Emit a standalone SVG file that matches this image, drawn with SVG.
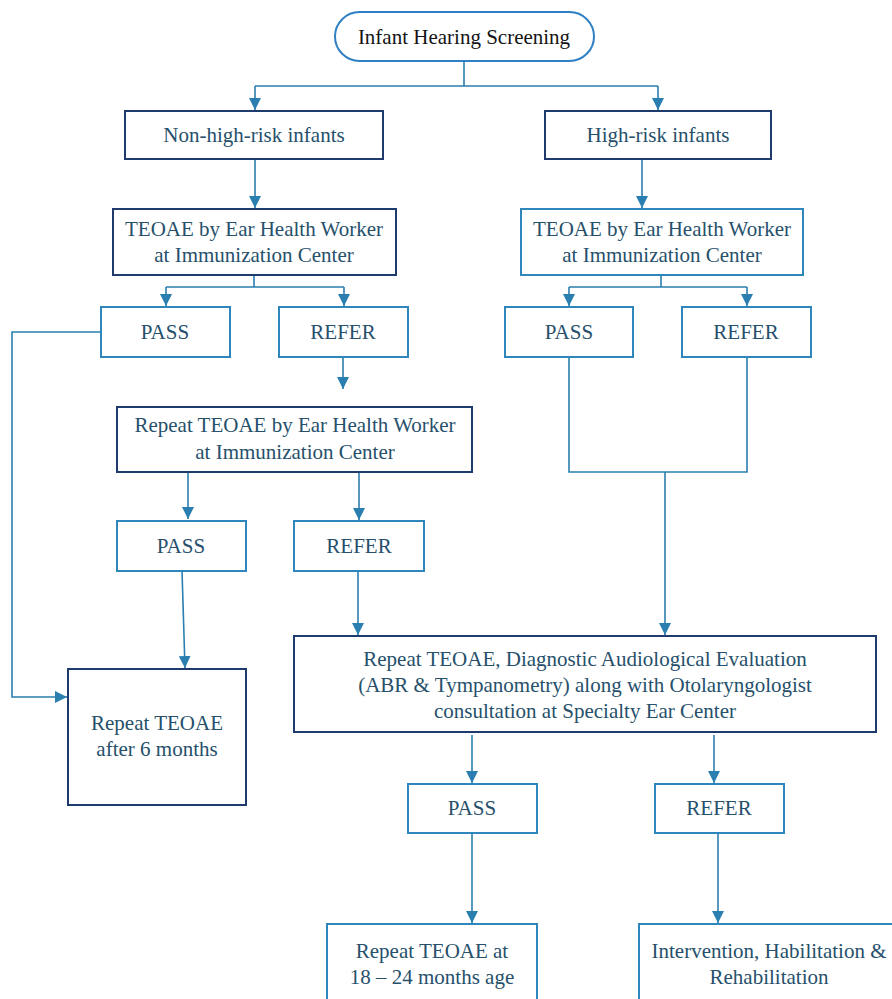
<svg xmlns="http://www.w3.org/2000/svg" width="892" height="999" viewBox="0 0 892 999">
<style>
.nv{fill:#fff;stroke:#1f3b6e;stroke-width:2}
.lb{fill:#fff;stroke:#2e86bd;stroke-width:2}
.t{font-family:'Liberation Serif','DejaVu Serif',serif;font-size:21px;fill:#26506b;text-anchor:middle}
.c{fill:none;stroke:#2a7fb0;stroke-width:1.6}
</style>
<defs>
<marker id="ah" viewBox="0 0 10 10" refX="10" refY="5" markerWidth="12" markerHeight="12" markerUnits="userSpaceOnUse" orient="auto">
<path d="M0,0 L10,5 L0,10 z" fill="#2a7fb0"/>
</marker>
</defs>
<rect width="892" height="999" fill="#fff"/>
<g id="connectors">
<path class="c" d="M464,61 V86 M255,86 H658"/>
<path class="c" d="M255,86 V110" marker-end="url(#ah)"/>
<path class="c" d="M658,86 V110" marker-end="url(#ah)"/>
<path class="c" d="M255,159 V208" marker-end="url(#ah)"/>
<path class="c" d="M642,159 V208" marker-end="url(#ah)"/>
<path class="c" d="M254,275 V287 M166,287 H344"/>
<path class="c" d="M166,287 V306" marker-end="url(#ah)"/>
<path class="c" d="M344,287 V306" marker-end="url(#ah)"/>
<path class="c" d="M661,275 V287 M569,287 H747"/>
<path class="c" d="M569,287 V306" marker-end="url(#ah)"/>
<path class="c" d="M747,287 V306" marker-end="url(#ah)"/>
<path class="c" d="M101,332 H12 V697 H67" marker-end="url(#ah)"/>
<path class="c" d="M343,357 V389" marker-end="url(#ah)"/>
<path class="c" d="M188,470 V519" marker-end="url(#ah)"/>
<path class="c" d="M359,472 V520" marker-end="url(#ah)"/>
<path class="c" d="M182,571 L185,668" marker-end="url(#ah)"/>
<path class="c" d="M358,568 V635" marker-end="url(#ah)"/>
<path class="c" d="M569,357 V472 H747 V357"/>
<path class="c" d="M665,472 V635" marker-end="url(#ah)"/>
<path class="c" d="M472,735 V783" marker-end="url(#ah)"/>
<path class="c" d="M714,735 V783" marker-end="url(#ah)"/>
<path class="c" d="M472,833 V923" marker-end="url(#ah)"/>
<path class="c" d="M718,833 V923" marker-end="url(#ah)"/>
</g>
<g id="start">
<rect x="335" y="12" width="259" height="49" rx="24.5" fill="#fff" stroke="#2e7fc4" stroke-width="2"/>
<text class="t" x="464" y="44" style="fill:#141414">Infant Hearing Screening</text>
</g>
<g id="nonhigh">
<rect class="nv" x="125" y="111" width="258" height="48"/>
<text class="t" x="254" y="142">Non-high-risk infants</text>
</g>
<g id="high">
<rect class="nv" x="545" y="111" width="226" height="48"/>
<text class="t" x="658" y="142">High-risk infants</text>
</g>
<g id="teoae-left">
<rect class="nv" x="113" y="209" width="283" height="66"/>
<text class="t" x="254" y="236">TEOAE by Ear Health Worker</text>
<text class="t" x="254" y="262">at Immunization Center</text>
</g>
<g id="teoae-right">
<rect class="lb" x="521" y="209" width="282" height="66"/>
<text class="t" x="662" y="236">TEOAE by Ear Health Worker</text>
<text class="t" x="662" y="262">at Immunization Center</text>
</g>
<g id="pass1">
<rect class="lb" x="101" y="307" width="129" height="50"/>
<text class="t" x="165" y="339">PASS</text>
</g>
<g id="refer1">
<rect class="lb" x="279" y="307" width="129" height="50"/>
<text class="t" x="343" y="339">REFER</text>
</g>
<g id="pass-hr">
<rect class="lb" x="505" y="307" width="128" height="50"/>
<text class="t" x="569" y="339">PASS</text>
</g>
<g id="refer-hr">
<rect class="lb" x="682" y="307" width="129" height="50"/>
<text class="t" x="746" y="339">REFER</text>
</g>
<g id="repeat-teoae">
<rect class="nv" x="117" y="407" width="355" height="65"/>
<text class="t" x="295" y="432">Repeat TEOAE by Ear Health Worker</text>
<text class="t" x="295" y="459">at Immunization Center</text>
</g>
<g id="pass2">
<rect class="lb" x="117" y="521" width="129" height="50"/>
<text class="t" x="181" y="553">PASS</text>
</g>
<g id="refer2">
<rect class="lb" x="294" y="521" width="130" height="50"/>
<text class="t" x="359" y="553">REFER</text>
</g>
<g id="six-months">
<rect class="nv" x="68" y="669" width="178" height="136"/>
<text class="t" x="157" y="730">Repeat TEOAE</text>
<text class="t" x="157" y="756">after 6 months</text>
</g>
<g id="specialty">
<rect class="nv" x="294" y="636" width="582" height="96"/>
<text class="t" x="585" y="666">Repeat TEOAE, Diagnostic Audiological Evaluation</text>
<text class="t" x="585" y="692">(ABR &amp; Tympanometry) along with Otolaryngologist</text>
<text class="t" x="585" y="718">consultation at Specialty Ear Center</text>
</g>
<g id="pass3">
<rect class="lb" x="408" y="784" width="129" height="49"/>
<text class="t" x="472" y="815">PASS</text>
</g>
<g id="refer3">
<rect class="lb" x="655" y="784" width="129" height="49"/>
<text class="t" x="719" y="815">REFER</text>
</g>
<g id="repeat-18">
<rect class="lb" x="327" y="924" width="210" height="90"/>
<text class="t" x="432" y="958">Repeat TEOAE at</text>
<text class="t" x="432" y="984">18 – 24 months age</text>
</g>
<g id="intervention">
<rect class="lb" x="639" y="924" width="270" height="90"/>
<text class="t" x="769" y="958">Intervention, Habilitation &amp;</text>
<text class="t" x="769" y="984">Rehabilitation</text>
</g>
</svg>
